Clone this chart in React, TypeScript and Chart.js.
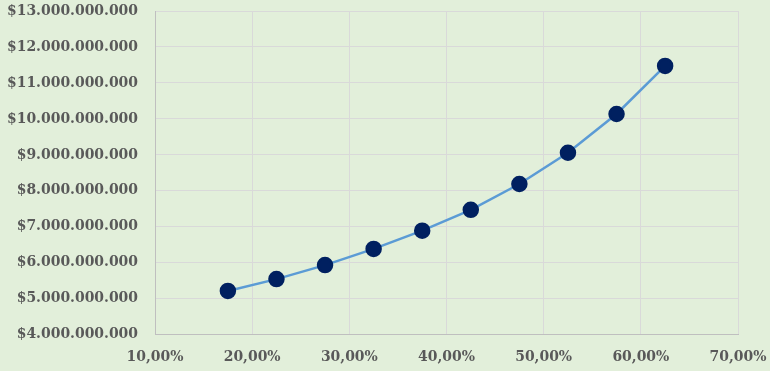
import React, { useEffect, useRef } from "react";
import { Chart, registerables } from "chart.js";

Chart.register(...registerables);

const rates = [17.5, 22.5, 27.5, 32.5, 37.5, 42.5, 47.5, 52.5, 57.5, 62.5];
const values = [5.2e9, 5.53e9, 5.92e9, 6.37e9, 6.88e9, 7.46e9, 8.18e9, 9.05e9, 10.13e9, 11.47e9];
const xMin = 10;
const xMax = 70;
const yMin = 4e9;
const yMax = 13e9;

const FONT = "'DejaVu Serif Condensed', 'DejaVu Serif', serif";

function fmtMoney(v: number): string {
  const s = Math.round(v).toString();
  return "$" + s.replace(/\B(?=(\d{3})+(?!\d))/g, ".");
}
function fmtPct(v: number): string {
  return v.toFixed(2).replace(".", ",") + "%";
}

const bgPlugin = {
  id: "bg",
  beforeDraw(chart: any) {
    const { ctx, width, height } = chart;
    ctx.save();
    ctx.fillStyle = "#E2EFDA";
    ctx.fillRect(0, 0, width, height);
    ctx.restore();
  },
};

export default function App() {
  const ref = useRef<HTMLCanvasElement>(null);
  useEffect(() => {
    document.body.style.margin = "0";
    const chart = new Chart(ref.current!, {
      type: "scatter",
      data: {
        datasets: [
          {
            data: rates.map((r, i) => ({ x: r, y: values[i] })),
            showLine: true,
            borderColor: "#5B9BD5",
            borderWidth: 2.5,
            backgroundColor: "#002060",
            pointBackgroundColor: "#002060",
            pointBorderColor: "#002060",
            pointRadius: 7,
            tension: 0,
          },
        ],
      },
      options: {
        responsive: false,
        animation: false,
        layout: { padding: { top: 11, right: 32, left: 0, bottom: 0 } },
        plugins: { legend: { display: false }, tooltip: { enabled: false } },
        scales: {
          x: {
            type: "linear",
            min: xMin,
            max: xMax,
            afterFit: (s: any) => {
              s.height = 37;
              s.paddingLeft = 0;
              s.paddingRight = 0;
            },
            ticks: {
              stepSize: 10,
              callback: (v: any) => fmtPct(Number(v)),
              color: "#595959",
              font: { family: FONT, size: 15.5, weight: "bold" },
              padding: 14,
              maxRotation: 0,
            },
            grid: { color: "#D9D9D9", drawTicks: false, lineWidth: 1 },
            border: { color: "#BFBFBF", width: 1 },
          },
          y: {
            type: "linear",
            min: yMin,
            max: yMax,
            afterFit: (s: any) => {
              s.width = 155;
              s.paddingTop = 0;
              s.paddingBottom = 0;
            },
            ticks: {
              stepSize: 1e9,
              callback: (v: any) => fmtMoney(Number(v)),
              color: "#595959",
              font: { family: FONT, size: 15.5, weight: "bold" },
              padding: 17,
            },
            grid: { color: "#D9D9D9", drawTicks: false, lineWidth: 1 },
            border: { color: "#BFBFBF", width: 1 },
          },
        },
      },
      plugins: [bgPlugin],
    });
    return () => chart.destroy();
  }, []);
  return <canvas ref={ref} width={770} height={371} style={{ display: "block" }} />;
}
